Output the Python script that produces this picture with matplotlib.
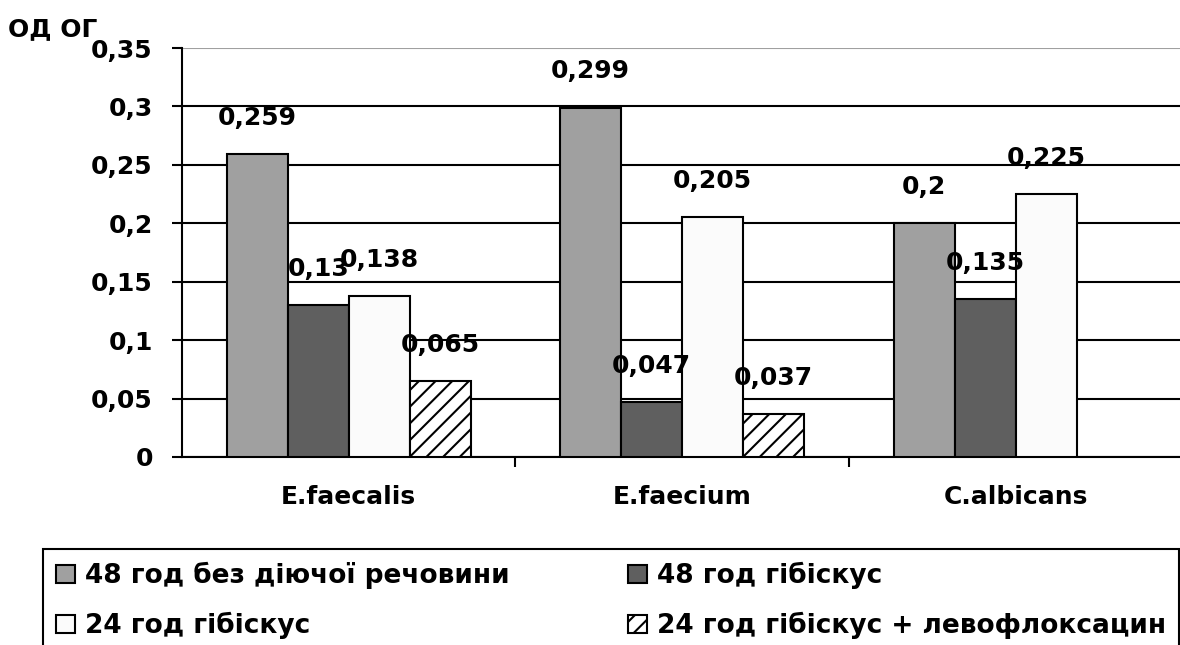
import numpy as np
import matplotlib
matplotlib.use("Agg")
import matplotlib.pyplot as plt
from matplotlib.ticker import FuncFormatter

# data
categories = ["E.faecalis", "E.faecium", "C.albicans"]
series_names = ["48 год без діючої речовини", "48 год гібіскус",
                "24 год гібіскус", "24 год гібіскус + левофлоксацин"]
vals_48_none = [0.259, 0.299, 0.2]
vals_48_hib = [0.13, 0.047, 0.135]
vals_24_hib = [0.138, 0.205, 0.225]
vals_24_levo = [0.065, 0.037, None]
y_ticks = [0, 0.05, 0.1, 0.15, 0.2, 0.25, 0.3, 0.35]

plt.rcParams['font.family'] = ['DejaVu Sans']
plt.rcParams['font.weight'] = 'bold'
plt.rcParams['hatch.linewidth'] = 1.5
FS = 18

fig = plt.figure(figsize=(11.8, 6.45), dpi=100)
ax = fig.add_axes([182/1180, 1 - 457/645, 1.0 - 182/1180 + 0.002, (457 - 48)/645])

all_series = [vals_48_none, vals_48_hib, vals_24_hib, vals_24_levo]
colors = ['#a0a0a0', '#5f5f5f', '#fbfbfb', 'white']
hatches = [None, None, None, '//']
w = 0.183
x = np.arange(len(categories))
handles = []
for i, vals in enumerate(all_series):
    xs = [xx + (i - 1.5) * w for xx, v in zip(x, vals) if v is not None]
    vs = [v for v in vals if v is not None]
    b = ax.bar(xs, vs, width=w, color=colors[i], edgecolor='black',
               linewidth=1.5, hatch=hatches[i], zorder=3)
    handles.append(b)
    for xx, v in zip(xs, vs):
        lbl = ('%g' % v).replace('.', ',')
        ax.annotate(lbl, (xx, v), xytext=(0, 26), textcoords='offset points',
                    ha='center', va='center', fontsize=FS, zorder=4)

ax.set_xlim(-0.5, 2.5)
ax.set_ylim(0, 0.35)
ax.set_yticks(y_ticks)
ax.yaxis.set_major_formatter(FuncFormatter(lambda v, p: ('%g' % round(v, 2)).replace('.', ',')))
ax.tick_params(axis='y', labelsize=FS, length=7, width=1.5, pad=14, direction='out')

ax.set_xticks([0.5, 1.5])
ax.set_xticklabels([])
ax.set_xticks(x, minor=True)
ax.set_xticklabels(categories, minor=True)
ax.tick_params(axis='x', which='major', length=7, width=1.5, direction='out')
ax.tick_params(axis='x', which='minor', length=0, labelsize=FS, pad=20)

ax.yaxis.grid(True, color='black', linewidth=1.5)
ax.set_axisbelow(True)
ax.get_ygridlines()[-1].set_color('#a0a0a0')
for s in ['top', 'right']:
    ax.spines[s].set_visible(False)
for s in ['left', 'bottom']:
    ax.spines[s].set_linewidth(1.5)

fig.text(8/1180, 1 - 36/645, "ОД ОГ", fontsize=FS, ha='left', va='baseline')

# legend filled row by row, as in the original
leg_handles = [handles[0], handles[2], handles[1], handles[3]]
leg_labels = [series_names[0], series_names[2], series_names[1], series_names[3]]
leg = fig.legend(leg_handles, leg_labels, ncol=2, loc='upper left',
                 bbox_to_anchor=(43/1180, 1 - 549/645), fontsize=19,
                 frameon=True, fancybox=False, edgecolor='black', framealpha=1,
                 handlelength=0.7, handleheight=0.7, handletextpad=0.38,
                 columnspacing=4.5, labelspacing=0.85, borderpad=0.5,
                 borderaxespad=0)
leg.get_frame().set_linewidth(1.5)

fig.savefig("out.png", dpi=100)
